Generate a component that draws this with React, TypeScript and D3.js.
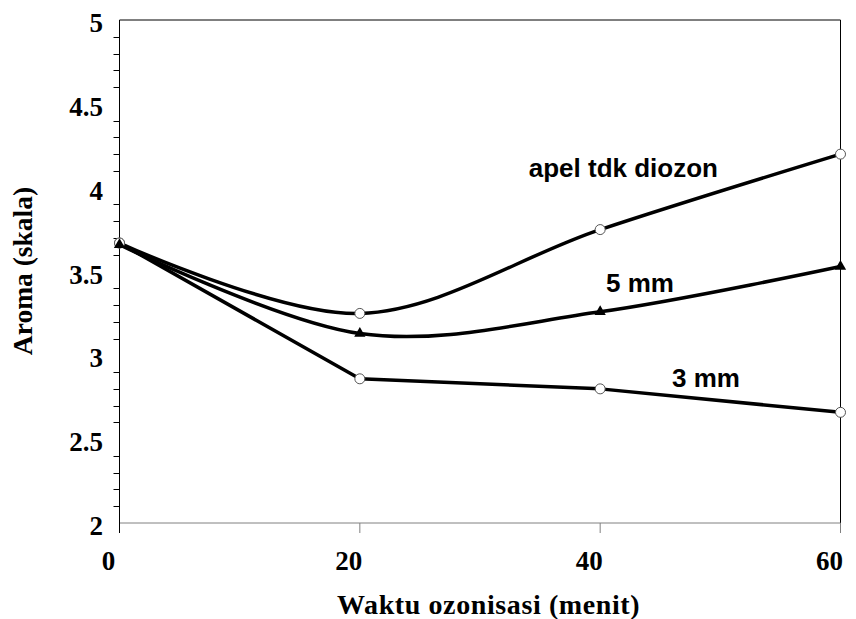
import React from "react";
import * as d3 from "d3";

const xValues = [0, 20, 40, 60];
const apelTdkDiozon = [3.67, 3.25, 3.75, 4.2];
const mm5 = [3.66, 3.13, 3.26, 3.53];
const mm3 = [3.67, 2.86, 2.8, 2.66];
const xTicks = [0, 20, 40, 60];
const yTicks = [2, 2.5, 3, 3.5, 4, 4.5, 5];
const yMinor = d3.range(21, 50).map((d) => d / 10).filter((d) => Math.round(d * 10) % 5 !== 0);

const W = 856;
const H = 619;
const left = 119.5;
const right = 840.5;
const top = 20;
const bottom = 523;

export default function App() {
  const x = d3.scaleLinear().domain([0, 60]).range([left, right]);
  const y = d3.scaleLinear().domain([2, 5]).range([bottom, top]);
  const smooth = d3
    .line<number>()
    .x((_, i) => x(xValues[i]))
    .y((d) => y(d))
    .curve(d3.curveCardinal.tension(0));
  const straight = d3
    .line<number>()
    .x((_, i) => x(xValues[i]))
    .y((d) => y(d));
  const tri = d3.symbol().type(d3.symbolTriangle).size(55)();
  const serif = "'Liberation Serif', 'Times New Roman', serif";
  const sans = "'Liberation Sans', Arial, sans-serif";

  return (
    <svg width={W} height={H} style={{ position: "absolute", left: 0, top: 0, background: "#fff" }}>
      {/* frame */}
      <line x1={left} x2={right} y1={top} y2={top} stroke="#000" strokeWidth={1} />
      <line x1={right} x2={right} y1={top} y2={bottom + 10} stroke="#000" strokeWidth={1} />
      <line x1={left} x2={right} y1={bottom} y2={bottom} stroke="#808080" strokeWidth={1} />
      {xTicks.map((t) => (
        <line key={"xt" + t} x1={x(t)} x2={x(t)} y1={bottom} y2={bottom + 10} stroke="#808080" strokeWidth={1} />
      ))}
      <line x1={left} x2={left} y1={top} y2={bottom + 10} stroke="#000" strokeWidth={1} />
      {yMinor.map((t) => (
        <line key={"ym" + t} x1={left - 6} x2={left} y1={Math.round(y(t)) + 0.5} y2={Math.round(y(t)) + 0.5} stroke="#000" strokeWidth={1} />
      ))}
      {/* y tick labels */}
      {yTicks.map((t) => (
        <text key={"yl" + t} x={103} y={y(t) + 12} textAnchor="end" fontFamily={serif} fontWeight="bold" fontSize={27}>
          {String(t)}
        </text>
      ))}
      {/* x tick labels */}
      {xTicks.map((t) => (
        <text key={"xl" + t} x={x(t) - 11} y={570} textAnchor="middle" fontFamily={serif} fontWeight="bold" fontSize={27}>
          {String(t)}
        </text>
      ))}
      {/* axis titles */}
      <text x={337} y={614} fontFamily={serif} fontWeight="bold" fontSize={28} letterSpacing={0.6}>
        Waktu ozonisasi (menit)
      </text>
      <text
        transform={`translate(32,271) rotate(-90)`}
        textAnchor="middle"
        fontFamily={serif}
        fontWeight="bold"
        fontSize={27.5}
      >
        Aroma (skala)
      </text>
      {/* series lines */}
      <path d={straight(mm3) || ""} fill="none" stroke="#000" strokeWidth={3.5} strokeLinejoin="round" />
      <path d={smooth(mm5) || ""} fill="none" stroke="#000" strokeWidth={3.5} />
      <path d={smooth(apelTdkDiozon) || ""} fill="none" stroke="#000" strokeWidth={3.5} />
      {/* markers */}
      {mm3.map((v, i) => (
        <circle key={"c3" + i} cx={x(xValues[i])} cy={y(v)} r={5} fill="#fff" stroke="#555" strokeWidth={1} />
      ))}
      {apelTdkDiozon.map((v, i) => (
        <circle key={"ca" + i} cx={x(xValues[i])} cy={y(v)} r={5} fill="#fff" stroke="#555" strokeWidth={1} />
      ))}
      {mm5.map((v, i) => (
        <path key={"t5" + i} d={tri || ""} transform={`translate(${x(xValues[i])},${y(v)})`} fill="#000" />
      ))}
      {/* inline labels */}
      <text x={718} y={177} textAnchor="end" fontFamily={sans} fontWeight="bold" fontSize={26}>
        apel tdk diozon
      </text>
      <text x={606} y={292} fontFamily={sans} fontWeight="bold" fontSize={26}>
        5 mm
      </text>
      <text x={672} y={387} fontFamily={sans} fontWeight="bold" fontSize={26}>
        3 mm
      </text>
    </svg>
  );
}
